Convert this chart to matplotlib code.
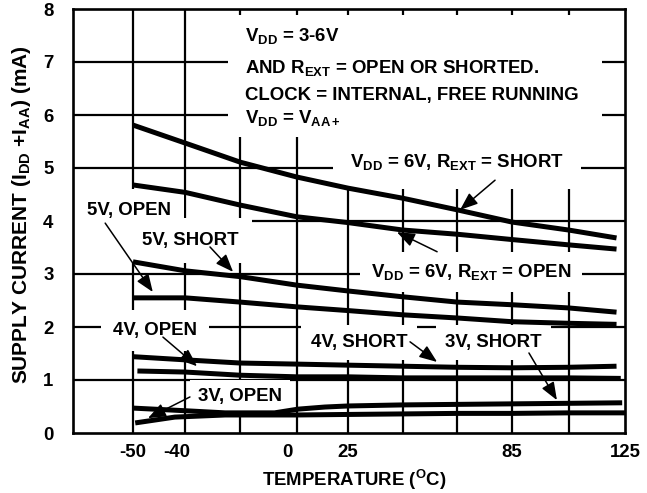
import matplotlib
matplotlib.use('Agg')
import numpy as np
import matplotlib.pyplot as plt
from matplotlib.patches import Rectangle

FAM = 'Liberation Sans'
plt.rcParams['font.family'] = [FAM, 'DejaVu Sans']
plt.rcParams['font.weight'] = 'bold'
plt.rcParams['mathtext.fontset'] = 'custom'
plt.rcParams['mathtext.rm'] = 'Liberation Sans:bold'
plt.rcParams['mathtext.it'] = 'Liberation Sans:bold'
plt.rcParams['mathtext.bf'] = 'Liberation Sans:bold'
plt.rcParams['mathtext.sf'] = 'Liberation Sans:bold'

# ---------------- data (temperature in degC, current in mA) ----------------
temps = [-50, -37, -17, 4, 25, 45, 65, 85, 105, 122]
i_6v_short = [5.81, 5.47, 5.11, 4.83, 4.62, 4.43, 4.21, 3.98, 3.83, 3.68]
i_6v_open = [4.68, 4.54, 4.30, 4.08, 3.97, 3.83, 3.75, 3.65, 3.55, 3.47]
i_5v_short = [3.23, 3.06, 2.95, 2.79, 2.68, 2.57, 2.47, 2.42, 2.36, 2.28]
i_5v_open = [2.55, 2.55, 2.47, 2.38, 2.31, 2.23, 2.17, 2.10, 2.07, 2.05]
i_4v_upper = [1.44, 1.38, 1.32, 1.30, 1.28, 1.26, 1.24, 1.23, 1.24, 1.26]

temps_4v_lower = [-49, -37, -17, 4, 25, 45, 65, 85, 105, 123.5]
i_4v_lower = [1.17, 1.15, 1.09, 1.06, 1.06, 1.04, 1.04, 1.04, 1.04, 1.03]

temps_3v_a = [-50, -37, -22.5, -4.5, 4.5, 15.5, 25, 45, 65, 85, 105, 124]
i_3v_a = [0.47, 0.42, 0.38, 0.38, 0.45, 0.49, 0.51, 0.53, 0.54, 0.55, 0.56, 0.57]

temps_3v_b = [-49.5, -40.5, -22.5, 4, 25, 45, 65, 85, 105, 125]
i_3v_b = [0.19, 0.30, 0.34, 0.34, 0.35, 0.36, 0.37, 0.37, 0.38, 0.38]

x_ticks = [-50, -40, 0, 25, 85, 125]
x_ticklabels = ['-50', '-40', '0', '25', '85', '125']
y_ticks = [0, 1, 2, 3, 4, 5, 6, 7, 8]
grid_temps = [-50, -37, -17, 4, 25, 45, 65, 85, 105]
grid_currents = [1, 2, 3, 4, 5, 6, 7]

# the printed temperature axis is not evenly spaced: place the labelled
# temperatures where the original chart puts them (piecewise-linear scale)
scale_temps = [-72, -50, -40, 0, 25, 85, 125]
scale_pos = [0, 60, 104, 214, 275, 439, 552]


def fwd(t):
    return np.interp(t, scale_temps, scale_pos)


def inv(p):
    return np.interp(p, scale_pos, scale_temps)


FS = 13.4

fig = plt.figure(figsize=(6.47, 4.93), dpi=100)
ax = fig.add_axes([73/647, 60/493, 552/647, 424/493])
ax.set_xscale('function', functions=(fwd, inv))
ax.set_xlim(-72, 125)
ax.set_ylim(0, 8)

for gx in grid_temps:
    ax.axvline(gx, color='black', lw=1.6, zorder=1)
for gy in grid_currents:
    ax.axhline(gy, color='black', lw=1.6, zorder=1)

# white area behind the condition notes
ax.add_patch(Rectangle((0.281, 0.698), 0.677, 0.288, transform=ax.transAxes,
                       facecolor='white', edgecolor='none', zorder=2))

curve_kw = dict(color='black', lw=3.6, solid_capstyle='butt', solid_joinstyle='round', zorder=4)
ax.plot(temps, i_6v_short, **curve_kw)
ax.plot(temps, i_6v_open, **curve_kw)
ax.plot(temps, i_5v_short, **curve_kw)
ax.plot(temps, i_5v_open, **curve_kw)
ax.plot(temps, i_4v_upper, **curve_kw)
ax.plot(temps_4v_lower, i_4v_lower, **curve_kw)
ax.plot(temps_3v_a, i_3v_a, **curve_kw)
ax.plot(temps_3v_b, i_3v_b, **curve_kw)

for s in ax.spines.values():
    s.set_linewidth(1.9)
    s.set_zorder(6)

ax.set_xticks(x_ticks)
ax.set_xticklabels(x_ticklabels, fontfamily=FAM, fontweight='bold')
ax.set_xticks([-40, 0], minor=True)
ax.set_xticklabels(['', ''], minor=True)
ax.set_yticks(y_ticks)
ax.set_yticklabels([str(v) for v in y_ticks], fontfamily=FAM, fontweight='bold')
ax.tick_params(axis='both', which='major', length=0, labelsize=FS)
ax.tick_params(axis='x', which='major', pad=8)
ax.tick_params(axis='y', which='major', pad=14)
ax.tick_params(axis='x', which='minor', length=7, width=1.9, direction='out')

ax.set_xlabel('TEMPERATURE ($^{\\rm O}$C)', fontsize=FS, fontfamily=FAM, fontweight='bold')
ax.xaxis.set_label_coords(0.51, -0.083)
ax.set_ylabel('SUPPLY CURRENT (I$_{\\rm DD}$ +I$_{\\rm AA}$) (mA)', fontsize=15,
              fontfamily=FAM, fontweight='bold')
ax.yaxis.set_label_coords(-0.072, 0.514)

# condition notes
notes = ['V$_{\\rm DD}$ = 3-6V',
         'AND R$_{\\rm EXT}$ = OPEN OR SHORTED.',
         'CLOCK = INTERNAL, FREE RUNNING',
         'V$_{\\rm DD}$ = V$_{\\rm AA+}$']
note_y = [7.40, 6.79, 6.28, 5.85]
for t, y in zip(notes, note_y):
    ax.text(-15.3, y, t, fontsize=FS, fontfamily=FAM, fontweight='bold',
            ha='left', va='baseline', zorder=3)


def label(x, y, s, pad=0.6):
    ax.text(x, y, s, fontsize=FS, fontfamily=FAM, fontweight='bold', ha='center',
            va='baseline', zorder=3,
            bbox=dict(boxstyle='square,pad=%s' % pad, facecolor='white', edgecolor='none'))


def arrow(x0, y0, x1, y1):
    ax.annotate('', xy=(x1, y1), xytext=(x0, y0), zorder=5,
                arrowprops=dict(arrowstyle='-|>,head_length=0.9,head_width=0.35', color='black',
                                lw=1.1, shrinkA=0, shrinkB=0, mutation_scale=12))


label(64.9, 5.02, 'V$_{\\rm DD}$ = 6V, R$_{\\rm EXT}$ = SHORT', pad=0.9)
arrow(78.8, 4.77, 66.0, 4.21)
label(70.0, 2.94, 'V$_{\\rm DD}$ = 6V, R$_{\\rm EXT}$ = OPEN', pad=0.55)
arrow(57.6, 3.42, 42.9, 3.79)
label(-51.5, 4.11, '5V, OPEN', pad=0.7)
arrow(-60.2, 3.96, -45.5, 2.66)
label(-35.3, 3.55, '5V, SHORT', pad=0.75)
arrow(-28.0, 3.51, -19.6, 3.04)
label(-45.0, 1.85, '4V, OPEN', pad=0.65)
arrow(-43.2, 1.81, -32.7, 1.26)
label(29.0, 1.62, '4V, SHORT', pad=0.5)
arrow(47.7, 1.72, 57.6, 1.34)
label(78.1, 1.62, '3V, SHORT', pad=0.5)
arrow(91.0, 1.51, 100.9, 0.62)
label(-17.1, 0.60, '3V, OPEN', pad=0.45)
arrow(-35.3, 0.68, -46.6, 0.28)

fig.savefig('out.png', dpi=100, facecolor='white')
